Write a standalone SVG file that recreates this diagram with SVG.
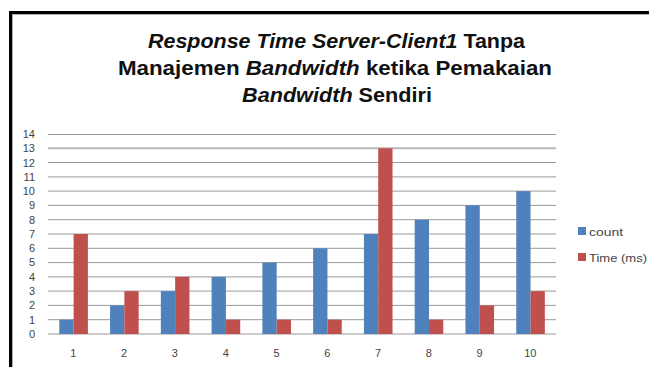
<svg xmlns="http://www.w3.org/2000/svg" width="649" height="367" viewBox="0 0 649 367">
<style>
.title{font-family:"Liberation Sans",Arial,sans-serif;font-size:20px;font-weight:bold;fill:#111}
.it{font-style:italic}
.ax{font-family:"Liberation Sans",Arial,sans-serif;font-size:11px;fill:#444}
.lg{font-family:"Liberation Sans",Arial,sans-serif;font-size:11.5px;fill:#444}
.grid{stroke:#9a9a9a;stroke-width:1}
.cnt{fill:#4F81BD}
.tim{fill:#C0504D}
</style>
<rect x="0" y="0" width="649" height="367" fill="#fff"/>
<g id="frame">
<rect x="9" y="11" width="640" height="3" fill="#000"/>
<rect x="9" y="11" width="3" height="356" fill="#000"/>
<rect x="12" y="14" width="637" height="1" fill="#b0b0b0"/>
<rect x="12" y="14" width="1" height="353" fill="#b0b0b0"/>
</g>
<g id="title">
<text class="title" x="336.5" y="48" text-anchor="middle" textLength="377" lengthAdjust="spacingAndGlyphs"><tspan class="it">Response Time Server-Client1</tspan> Tanpa</text>
<text class="title" x="335" y="75" text-anchor="middle" textLength="434" lengthAdjust="spacingAndGlyphs">Manajemen <tspan class="it">Bandwidth</tspan> ketika Pemakaian</text>
<text class="title" x="337" y="102" text-anchor="middle" textLength="190" lengthAdjust="spacingAndGlyphs"><tspan class="it">Bandwidth</tspan> Sendiri</text>
</g>
<g id="gridlines">
<line class="grid" x1="48" x2="556" y1="134.5" y2="134.5" stroke="#c4c4c4"/>
<line x1="48" x2="556" y1="148.3" y2="148.3" stroke="#b8b8b8" stroke-width="2"/>
<line class="grid" x1="48" x2="556" y1="162.5" y2="162.5"/>
<line class="grid" x1="48" x2="556" y1="176.9" y2="176.9"/>
<line class="grid" x1="48" x2="556" y1="191.1" y2="191.1"/>
<line class="grid" x1="48" x2="556" y1="205.4" y2="205.4" stroke="#c4c4c4"/>
<line class="grid" x1="48" x2="556" y1="219.7" y2="219.7"/>
<line class="grid" x1="48" x2="556" y1="234" y2="234"/>
<line class="grid" x1="48" x2="556" y1="248.3" y2="248.3"/>
<line class="grid" x1="48" x2="556" y1="262.6" y2="262.6"/>
<line class="grid" x1="48" x2="556" y1="276.9" y2="276.9" stroke="#c4c4c4"/>
<line class="grid" x1="48" x2="556" y1="291.1" y2="291.1"/>
<line class="grid" x1="48" x2="556" y1="305.4" y2="305.4"/>
<line class="grid" x1="48" x2="556" y1="319.7" y2="319.7"/>
<line class="grid" x1="48" x2="556" y1="334" y2="334"/>
</g>
<g id="yaxis" text-anchor="end">
<text class="ax" x="35" y="138">14</text>
<text class="ax" x="35" y="152">13</text>
<text class="ax" x="35" y="166.5">12</text>
<text class="ax" x="35" y="180.5">11</text>
<text class="ax" x="35" y="195">10</text>
<text class="ax" x="35" y="209">9</text>
<text class="ax" x="35" y="223.5">8</text>
<text class="ax" x="35" y="237.5">7</text>
<text class="ax" x="35" y="252">6</text>
<text class="ax" x="35" y="266">5</text>
<text class="ax" x="35" y="280.5">4</text>
<text class="ax" x="35" y="295">3</text>
<text class="ax" x="35" y="309">2</text>
<text class="ax" x="35" y="323.5">1</text>
<text class="ax" x="35" y="338">0</text>
</g>
<g id="bars-count">
<rect class="cnt" x="59.3" y="319.71" width="14.3" height="14.29"/>
<rect class="cnt" x="110.07" y="305.43" width="14.3" height="28.57"/>
<rect class="cnt" x="160.84" y="291.14" width="14.3" height="42.86"/>
<rect class="cnt" x="211.61" y="276.86" width="14.3" height="57.14"/>
<rect class="cnt" x="262.38" y="262.57" width="14.3" height="71.43"/>
<rect class="cnt" x="313.15" y="248.29" width="14.3" height="85.71"/>
<rect class="cnt" x="363.92" y="234" width="14.3" height="100"/>
<rect class="cnt" x="414.69" y="219.71" width="14.3" height="114.29"/>
<rect class="cnt" x="465.46" y="205.43" width="14.3" height="128.57"/>
<rect class="cnt" x="516.23" y="191.14" width="14.3" height="142.86"/>
</g>
<g id="bars-time">
<rect class="tim" x="73.6" y="234" width="14.3" height="100"/>
<rect class="tim" x="124.37" y="291.14" width="14.3" height="42.86"/>
<rect class="tim" x="175.14" y="276.86" width="14.3" height="57.14"/>
<rect class="tim" x="225.91" y="319.71" width="14.3" height="14.29"/>
<rect class="tim" x="276.68" y="319.71" width="14.3" height="14.29"/>
<rect class="tim" x="327.45" y="319.71" width="14.3" height="14.29"/>
<rect class="tim" x="378.22" y="148.29" width="14.3" height="185.71"/>
<rect class="tim" x="428.99" y="319.71" width="14.3" height="14.29"/>
<rect class="tim" x="479.76" y="305.43" width="14.3" height="28.57"/>
<rect class="tim" x="530.53" y="291.14" width="14.3" height="42.86"/>
</g>
<g id="xaxis" text-anchor="middle">
<text class="ax" x="73.4" y="357">1</text>
<text class="ax" x="124.15" y="357">2</text>
<text class="ax" x="174.92" y="357">3</text>
<text class="ax" x="225.7" y="357">4</text>
<text class="ax" x="276.47" y="357">5</text>
<text class="ax" x="327.24" y="357">6</text>
<text class="ax" x="378" y="357">7</text>
<text class="ax" x="428.78" y="357">8</text>
<text class="ax" x="479.55" y="357">9</text>
<text class="ax" x="530.32" y="357">10</text>
</g>
<g id="legend">
<rect class="cnt" x="578" y="227" width="8" height="8"/>
<text class="lg" x="589" y="235.5" textLength="34" lengthAdjust="spacingAndGlyphs">count</text>
<rect class="tim" x="578" y="253" width="8" height="8"/>
<text class="lg" x="589" y="261.5" textLength="58" lengthAdjust="spacingAndGlyphs">Time (ms)</text>
</g>
</svg>
